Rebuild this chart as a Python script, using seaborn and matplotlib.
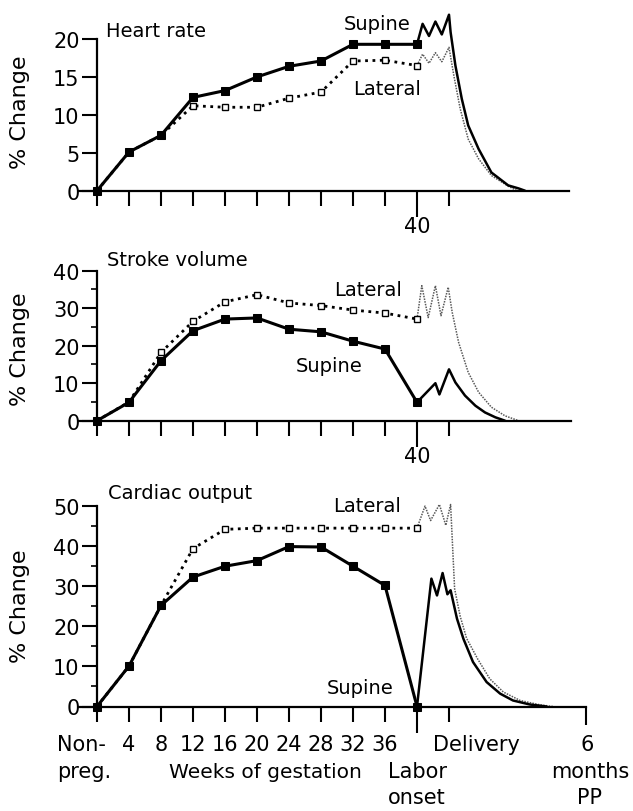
import numpy as np
import pandas as pd
import seaborn as sns
import matplotlib.pyplot as plt

# weeks of gestation with measurements
weeks = [0, 4, 8, 12, 16, 20, 24, 28, 32, 36, 40]

# Heart rate (% change)
hr_supine = [0, 5.1, 7.3, 12.3, 13.2, 15.0, 16.4, 17.1, 19.3, 19.3, 19.3]
hr_lateral = [0, 5.1, 7.3, 11.2, 11.0, 11.0, 12.2, 13.0, 17.1, 17.2, 16.5]
# labor / postpartum part
hr_sup_pp_x = [40, 40.7, 41.5, 42.3, 43.1, 44.0, 44.2, 44.8, 45.6, 46.4, 47.7, 49.3, 51.4, 52.7, 53.5]
hr_sup_pp_y = [19.3, 22.0, 20.4, 22.3, 20.6, 23.2, 20.9, 16.5, 12.1, 8.6, 5.5, 2.4, 0.7, 0.3, 0]
hr_lat_pp_x = [40, 40.7, 41.5, 42.3, 43.1, 44.0, 44.6, 45.4, 46.4, 47.7, 49.3, 51.4, 52.5]
hr_lat_pp_y = [16.5, 18.0, 16.8, 18.2, 17.0, 18.9, 15.2, 10.8, 6.8, 4.2, 2.0, 0.6, 0]

# Stroke volume
sv_supine = [0, 4.9, 16.0, 24.0, 27.1, 27.4, 24.4, 23.7, 21.2, 19.1, 4.9]
sv_lateral = [0, 5.0, 18.2, 26.5, 31.7, 33.6, 31.4, 30.7, 29.5, 28.7, 27.1]
sv_sup_pp_x = [40, 42.3, 42.8, 44.0, 44.8, 46.0, 47.3, 48.5, 49.8, 51.0]
sv_sup_pp_y = [4.9, 10.0, 7.0, 13.7, 10.2, 6.7, 4.0, 2.2, 0.9, 0]
sv_lat_pp_x = [40, 40.6, 41.4, 42.3, 43.0, 43.9, 44.4, 45.2, 46.4, 47.7, 49.3, 51.0, 52.7]
sv_lat_pp_y = [27.1, 36.0, 27.5, 36.0, 28.0, 35.6, 28.9, 20.9, 12.9, 7.6, 3.6, 1.3, 0]

# Cardiac output
co_supine = [0, 10.1, 25.2, 32.3, 35.0, 36.4, 39.9, 39.8, 35.0, 30.2, 0]
co_lateral = [0, 10.1, 25.2, 39.4, 44.2, 44.5, 44.5, 44.5, 44.5, 44.5, 44.5]
co_sup_pp_x = [40, 41.8, 42.5, 43.2, 43.8, 44.2, 45.0, 45.8, 47.0, 48.7, 50.4, 52.0, 54.1, 56.2]
co_sup_pp_y = [0, 31.9, 27.7, 33.3, 28.0, 29.0, 21.9, 16.9, 11.1, 6.1, 3.2, 1.5, 0.5, 0]
co_lat_pp_x = [40, 41.0, 41.7, 42.8, 43.6, 44.2, 44.7, 45.4, 46.2, 47.6, 49.1, 50.8, 52.9, 55.4, 57.0]
co_lat_pp_y = [44.5, 50.0, 46.4, 50.4, 45.2, 50.4, 29.4, 22.5, 17.0, 11.8, 6.9, 3.6, 1.5, 0.4, 0]

gest_labels = ['4', '8', '12', '16', '20', '24', '28', '32', '36']

sns.set_style('ticks')
plt.rcParams['font.family'] = ['DejaVu Sans']
plt.rcParams['text.color'] = 'black'

fig = plt.figure(figsize=(6.33, 8.12), dpi=100)

H = 812.0
def make_axes(zero_px, px_per_unit, ymax):
    left = 49 / 633
    width = 560 / 633
    bottom = (H - zero_px) / H
    height = ymax * px_per_unit / H
    ax = fig.add_axes([left, bottom, width, height])
    ax.set_xlim(-6, 64)
    ax.set_ylim(0, ymax)
    return ax


def draw_panel(ax, sup, lat, spx, spy, lpx, lpy):
    # lateral first, supine drawn on top
    sns.lineplot(x=lpx, y=lpy, ax=ax, color='0.35', linewidth=1.1,
                 linestyle=(0, (1, 0.8)), estimator=None, sort=False, clip_on=False, zorder=2)
    sns.lineplot(x=spx, y=spy, ax=ax, color='black', linewidth=1.8,
                 estimator=None, sort=False, clip_on=False, zorder=3)
    sns.lineplot(x=weeks, y=lat, ax=ax, color='black', linewidth=2, linestyle=':',
                 marker='s', markersize=5, markerfacecolor='white', markeredgecolor='black',
                 markeredgewidth=1, estimator=None, sort=False, clip_on=False, zorder=4)
    sns.lineplot(x=weeks, y=sup, ax=ax, color='black', linewidth=2.2,
                 marker='s', markersize=6, markerfacecolor='black', markeredgecolor='black',
                 estimator=None, sort=False, clip_on=False, zorder=5)


def style_axes(ax, yticks, minor, xend, extra_ticks=()):
    sns.despine(ax=ax)
    ax.spines['left'].set_position(('data', 0))
    ax.spines['bottom'].set_position(('data', 0))
    ax.spines['left'].set_bounds(0, yticks[-1])
    ax.spines['bottom'].set_bounds(-2.2, xend)
    for s in ['left', 'bottom']:
        ax.spines[s].set_linewidth(1.6)
        ax.spines[s].set_color('black')
    ax.set_yticks(yticks)
    ax.set_yticklabels([str(t) for t in yticks])
    if minor:
        ax.set_yticks(minor, minor=True)
    ax.tick_params(axis='y', which='major', direction='out', length=11, width=1.5,
                   labelsize=15, pad=1.5, colors='black')
    ax.tick_params(axis='y', which='minor', direction='out', length=4, width=1.2, colors='black')
    xt = list(range(0, 45, 4)) + list(extra_ticks)
    ax.set_xticks(xt)
    ax.set_xticklabels([''] * len(xt))
    ax.tick_params(axis='x', direction='out', length=11, width=1.5, colors='black')
    ticks = ax.xaxis.get_major_ticks()
    ticks[10].tick1line.set_markersize(19)
    if extra_ticks:
        ticks[-1].tick1line.set_markersize(13)
    ax.set_xlabel('')
    ax.set_ylabel('')
    ax.grid(False)


def y_title(ax, frac):
    # x in data (weeks), y in axes fraction
    ax.text(-9.6, frac, '% Change', transform=ax.get_xaxis_transform(), rotation=90,
            fontsize=16, ha='center', va='center')


# ---- Heart rate
ax1 = make_axes(191.7, 7.585, 25)
draw_panel(ax1, hr_supine, hr_lateral, hr_sup_pp_x, hr_sup_pp_y, hr_lat_pp_x, hr_lat_pp_y)
style_axes(ax1, [0, 5, 10, 15, 20], None, 59.0)
ax1.text(1.1, 21.1, 'Heart rate', fontsize=14, ha='left', va='center')
ax1.text(30.8, 22.0, 'Supine', fontsize=14, ha='left', va='center')
ax1.text(32.0, 13.5, 'Lateral', fontsize=14, ha='left', va='center')
ax1.text(40, -4.6, '40', fontsize=15, ha='center', va='center')
y_title(ax1, 0.42)

# ---- Stroke volume
ax2 = make_axes(421.7, 3.75, 46)
draw_panel(ax2, sv_supine, sv_lateral, sv_sup_pp_x, sv_sup_pp_y, sv_lat_pp_x, sv_lat_pp_y)
style_axes(ax2, [0, 10, 20, 30, 40], [5, 15, 25, 35], 59.3)
ax2.text(1.3, 43.1, 'Stroke volume', fontsize=14, ha='left', va='center')
ax2.text(29.7, 35.1, 'Lateral', fontsize=14, ha='left', va='center')
ax2.text(24.8, 14.7, 'Supine', fontsize=14, ha='left', va='center')
ax2.text(40, -9.3, '40', fontsize=15, ha='center', va='center')
y_title(ax2, 0.42)

# ---- Cardiac output
ax3 = make_axes(707.5, 4.008, 56)
draw_panel(ax3, co_supine, co_lateral, co_sup_pp_x, co_sup_pp_y, co_lat_pp_x, co_lat_pp_y)
style_axes(ax3, [0, 10, 20, 30, 40, 50], [5, 15, 25, 35, 45], 61.1, extra_ticks=(61.1,))
ax3.text(1.4, 53.5, 'Cardiac output', fontsize=14, ha='left', va='center')
ax3.text(29.5, 50.2, 'Lateral', fontsize=14, ha='left', va='center')
ax3.text(28.7, 4.8, 'Supine', fontsize=14, ha='left', va='center')
y_title(ax3, 0.45)

# bottom axis labels
row1, row2, row3 = -9.4, -16.1, -22.6
for w, lab in zip(weeks[1:10], gest_labels):
    ax3.text(w, row1, lab, fontsize=15, ha='center', va='center')
ax3.text(-5.0, row1, 'Non-', fontsize=15, ha='left', va='center')
ax3.text(-5.0, row2, 'preg.', fontsize=15, ha='left', va='center')
ax3.text(21, row2, 'Weeks of gestation', fontsize=14.5, ha='center', va='center')
ax3.text(40, row2, 'Labor', fontsize=15, ha='center', va='center')
ax3.text(40, row3, 'onset', fontsize=15, ha='center', va='center')
ax3.text(42.0, row1, 'Delivery', fontsize=15, ha='left', va='center')
ax3.text(61.3, row1, '6', fontsize=15, ha='center', va='center')
ax3.text(61.6, row2, 'months', fontsize=15, ha='center', va='center')
ax3.text(61.6, row3, 'PP', fontsize=15, ha='center', va='center')

fig.savefig('out.png', dpi=100)
